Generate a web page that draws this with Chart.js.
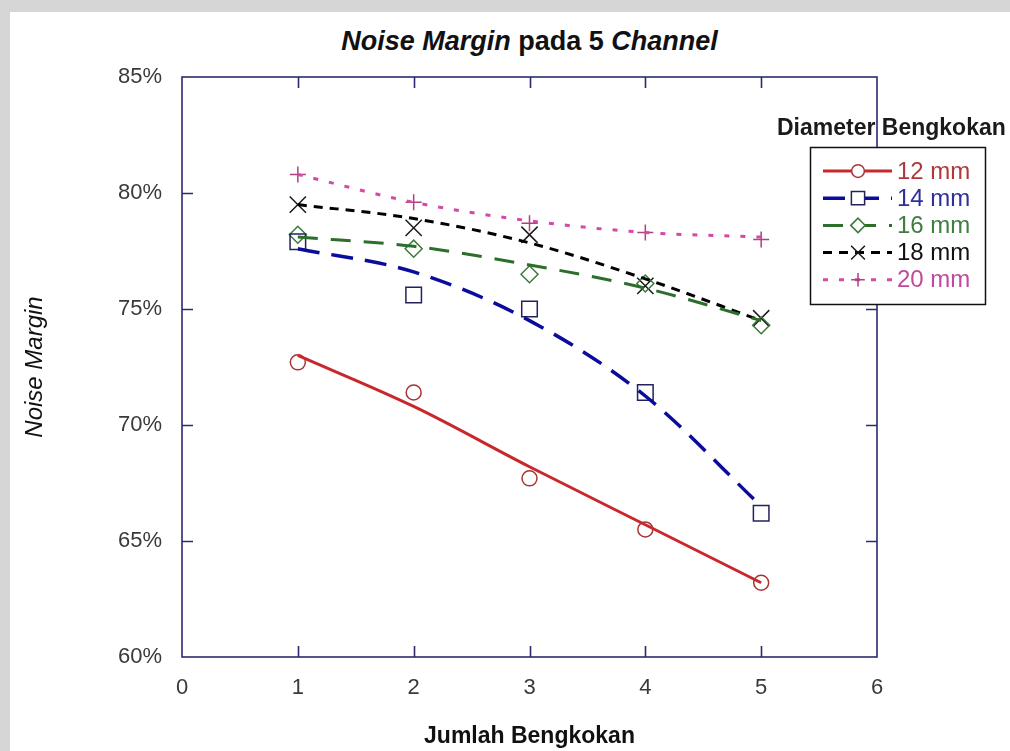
<!DOCTYPE html>
<html>
<head>
<meta charset="utf-8">
<script src="https://cdn.jsdelivr.net/npm/chart.js@4.4.0/dist/chart.umd.min.js"></script>
<style>
html,body{margin:0;padding:0;}
body{width:1010px;height:751px;background:#d6d6d6;position:relative;overflow:hidden;font-family:"Liberation Sans",Arial,sans-serif;}
#paper{position:absolute;left:10px;top:12px;right:0;bottom:0;background:#fff;}
#wrap{position:absolute;left:0;top:0;width:1010px;height:751px;}
#judul{position:absolute;left:182px;width:695px;top:24px;text-align:center;font-weight:bold;font-size:27px;line-height:34px;color:#111;}
</style>
</head>
<body>
<div id="paper"></div>
<div id="judul"><i>Noise Margin</i> pada 5 <i>Channel</i></div>
<div id="wrap"><canvas id="nm_chart"></canvas></div>
<script>
// data
var jumlahBengkokan = [1, 2, 3, 4, 5];
var diameter = ["12 mm", "14 mm", "16 mm", "18 mm", "20 mm"];

// titik ukur (Noise Margin, %)
var nm12 = [72.7, 71.4, 67.7, 65.5, 63.2];
var nm14 = [77.9, 75.6, 75.0, 71.4, 66.2];
var nm16 = [78.2, 77.6, 76.5, 76.1, 74.3];
var nm18 = [79.5, 78.5, 78.2, 76.0, 74.6];
var nm20 = [80.8, 79.6, 78.7, 78.3, 78.0];

// garis trend (dibaca dari kurva)
var fit12 = [73.0, 70.8, 68.2, 65.7, 63.2];
var fit14 = [77.6, 76.6, 74.5, 71.25, 66.5];
var fit16 = [78.1, 77.7, 76.9, 75.9, 74.5];
var fit18 = [79.5, 78.9, 77.85, 76.3, 74.5];
var fit20 = [80.8, 79.6, 78.8, 78.3, 78.1];

var sumbuX = [0, 1, 2, 3, 4, 5, 6];
var sumbuY = [60, 65, 70, 75, 80, 85];

var titik = [nm12, nm14, nm16, nm18, nm20];
var trend = [fit12, fit14, fit16, fit18, fit20];

// gaya tiap seri
var gaya = [
  {line: "#c8282c", mark: "#a83434", text: "#b03838", dash: [], width: 3, style: "circle", r: 7.5},
  {line: "#0b0b9c", mark: "#22225e", text: "#2f2f9c", dash: [22, 12], width: 3.5, style: "rect", r: 11},
  {line: "#2d6e2d", mark: "#3c7a3c", text: "#3e7e3e", dash: [20, 13], width: 3, style: "rectRot", r: 8.5},
  {line: "#000000", mark: "#1a1a1a", text: "#111111", dash: [9, 7], width: 3, style: "crossRot", r: 11.5},
  {line: "#d24aa6", mark: "#b0407f", text: "#c04a9a", dash: [5, 11], width: 3, style: "cross", r: 8}
];

function keXY(arr){
  return arr.map(function(v, i){ return {x: jumlahBengkokan[i], y: v}; });
}

var datasets = [];
trend.forEach(function(f, i){
  datasets.push({
    type: 'line',
    label: diameter[i] + " trend",
    data: keXY(f),
    borderColor: gaya[i].line,
    borderWidth: gaya[i].width,
    borderDash: gaya[i].dash,
    pointRadius: 0,
    fill: false,
    cubicInterpolationMode: 'monotone'
  });
});
titik.forEach(function(t, i){
  datasets.push({
    type: 'scatter',
    label: diameter[i],
    data: keXY(t),
    showLine: false,
    pointStyle: gaya[i].style,
    pointRadius: gaya[i].r,
    pointBorderWidth: 1.5,
    pointBorderColor: gaya[i].mark,
    pointBackgroundColor: 'rgba(0,0,0,0)'
  });
});

var bingkai = {
  id: 'bingkai',
  beforeDatasetsDraw: function(chart){
    var ctx = chart.ctx, a = chart.chartArea, x = chart.scales.x, y = chart.scales.y;
    ctx.save();
    ctx.strokeStyle = "#2b2b6e";
    ctx.lineWidth = 1.6;
    ctx.strokeRect(a.left, a.top, a.right - a.left, a.bottom - a.top);
    ctx.beginPath();
    sumbuX.forEach(function(v){
      if (v <= x.min || v >= x.max) return;
      var px = Math.round(x.getPixelForValue(v)) + 0.5;
      ctx.moveTo(px, a.bottom); ctx.lineTo(px, a.bottom - 11);
      ctx.moveTo(px, a.top); ctx.lineTo(px, a.top + 11);
    });
    sumbuY.forEach(function(v){
      if (v <= y.min || v >= y.max) return;
      var py = Math.round(y.getPixelForValue(v)) + 0.5;
      ctx.moveTo(a.left, py); ctx.lineTo(a.left + 11, py);
      ctx.moveTo(a.right, py); ctx.lineTo(a.right - 11, py);
    });
    ctx.stroke();
    ctx.restore();
  }
};

var legenda = {
  id: 'legenda',
  afterDraw: function(chart){
    var ctx = chart.ctx;
    ctx.save();
    ctx.font = 'bold 23px "Liberation Sans", Arial, sans-serif';
    ctx.fillStyle = "#1a1a1a";
    ctx.textBaseline = 'middle';
    ctx.textAlign = 'left';
    ctx.fillText("Diameter Bengkokan", 777, 129);

    ctx.fillStyle = "#fff";
    ctx.fillRect(810, 147, 175, 157);
    ctx.strokeStyle = "#111";
    ctx.lineWidth = 1.5;
    ctx.strokeRect(810.5, 147.5, 175, 157);

    ctx.font = '24px "Liberation Sans", Arial, sans-serif';
    diameter.forEach(function(nama, i){
      var g = gaya[i];
      var yy = 171 + i * 27.2;
      ctx.setLineDash(g.dash);
      ctx.strokeStyle = g.line;
      ctx.lineWidth = g.width;
      ctx.beginPath();
      ctx.moveTo(823, yy); ctx.lineTo(892, yy);
      ctx.stroke();
      ctx.setLineDash([]);
      ctx.strokeStyle = g.mark;
      ctx.fillStyle = "#fff";
      ctx.lineWidth = 1.5;
      Chart.helpers.drawPoint(ctx, {pointStyle: g.style, radius: g.r * 0.85, borderWidth: 1.5, rotation: 0}, 858, yy);
      ctx.fillStyle = g.text;
      ctx.fillText(nama, 897, yy + 1);
    });
    ctx.restore();
  }
};

var ctx = document.getElementById("nm_chart").getContext('2d');
var nm_chart = new Chart(ctx, {
  type: 'scatter',
  data: { datasets: datasets },
  options: {
    responsive: true,
    maintainAspectRatio: false,
    animation: false,
    layout: { padding: { top: 77, right: 133, left: 0, bottom: 0 } },
    plugins: {
      legend: { display: false },
      title: { display: false },
      tooltip: { enabled: false }
    },
    scales: {
      x: {
        type: 'linear',
        min: 0, max: 6,
        afterFit: function(s){ s.height = 94; },
        grid: { display: false, drawTicks: false },
        border: { display: false },
        ticks: {
          stepSize: 1,
          padding: 18,
          color: "#3a3a3a",
          font: { family: '"Liberation Sans", Arial, sans-serif', size: 22 }
        },
        title: {
          display: true,
          text: "Jumlah Bengkokan",
          color: "#111",
          padding: { top: 0, bottom: 1 },
          font: { family: '"Liberation Sans", Arial, sans-serif', size: 23, weight: 'bold' }
        }
      },
      y: {
        min: 60, max: 85,
        afterFit: function(s){ s.width = 182; },
        grid: { display: false, drawTicks: false },
        border: { display: false },
        ticks: {
          stepSize: 5,
          padding: 20,
          color: "#3a3a3a",
          font: { family: '"Liberation Sans", Arial, sans-serif', size: 22 },
          callback: function(v){ return v + "%"; }
        },
        title: {
          display: true,
          text: "Noise Margin",
          color: "#111",
          padding: { top: 21, bottom: 0 },
          font: { family: '"Liberation Sans", Arial, sans-serif', size: 24, style: 'italic' }
        }
      }
    }
  },
  plugins: [bingkai, legenda]
});
</script>
</body>
</html>
